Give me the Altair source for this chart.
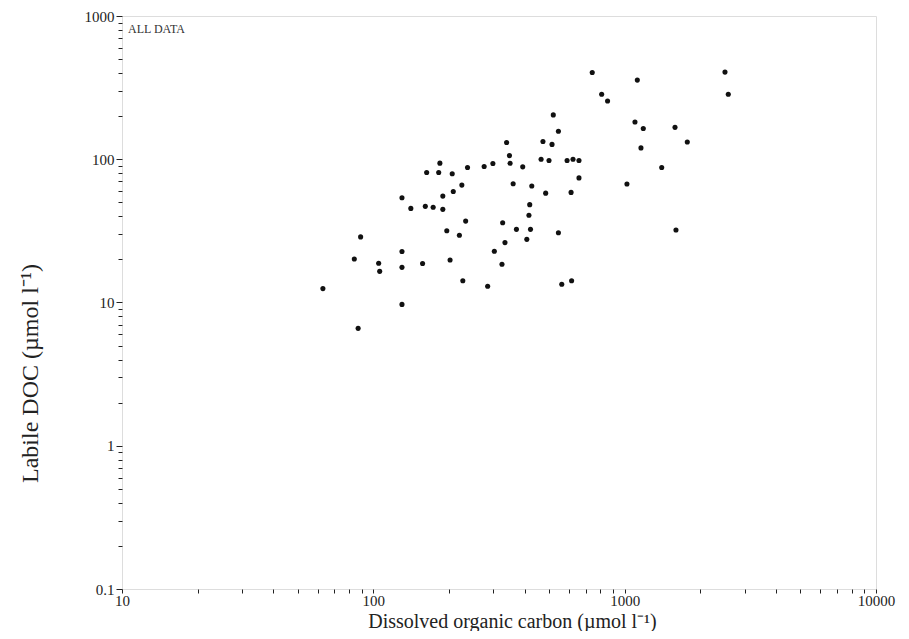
import altair as alt
import pandas as pd

# Dissolved organic carbon (umol/l) and labile DOC (umol/l)
doc = [63, 84, 87, 89, 105, 106, 130, 130, 130, 130,
       141, 161, 173, 189, 157, 163, 182, 184, 189, 206,
       208, 225, 237, 196, 220, 202, 227, 233, 276, 299,
       285, 303, 325, 327, 334, 339, 348, 350, 360, 371,
       393, 408, 419, 416, 422, 427, 473, 514, 465, 500,
       485, 520, 545, 545, 562, 615, 590, 623, 658, 612,
       658, 743, 810, 855, 1021, 1099, 1123, 1161, 1186, 1404,
       1586, 1600, 1775, 2507, 2584]
labile = [12.5, 20.1, 6.6, 28.7, 18.8, 16.5, 53.8, 22.7, 17.6, 9.7,
          45.4, 46.9, 46.2, 44.7, 18.7, 80.9, 80.9, 93.9, 55.3, 79.3,
          59.5, 66.0, 87.6, 31.7, 29.5, 19.8, 14.2, 37.0, 89.0, 93.4,
          13.0, 22.8, 18.5, 36.0, 26.2, 131, 106, 93.7, 67.5, 32.4,
          88.5, 27.6, 48.2, 40.7, 32.4, 65.1, 133, 127, 100, 98,
          58, 204, 157, 30.7, 13.4, 14.2, 98, 100, 98, 58.7,
          74.1, 403, 284, 255, 67.1, 182, 357, 120, 164, 87.6,
          167, 32.1, 132, 406, 284]

x_ticks = [m * 10 ** e for e in range(1, 4) for m in range(1, 10)] + [10000]
y_ticks = [round(m * 10 ** e, 4) for e in range(-1, 3) for m in range(1, 10)] + [1000]
x_major = [10, 100, 1000, 10000]
y_major = [0.1, 1, 10, 100, 1000]

df = pd.DataFrame({"doc": doc, "labile": labile})

FONT = "Liberation Serif"

def major_test(vals):
    return "indexof([" + ",".join(str(v) for v in vals) + "], datum.value) >= 0"

x_axis = alt.Axis(
    values=x_ticks,
    labelExpr=major_test(x_major) + " ? toString(datum.value) : ''",
    tickSize={"condition": {"test": major_test(x_major), "value": 4}, "value": 4},
    grid=False, domain=False, tickColor="#222", tickWidth=1,
    labelFont=FONT, labelFontSize=15, labelColor="#222", labelPadding=0,
    labelFlush=False, labelOverlap=False,
    title="Dissolved organic carbon (µmol l⁻¹)",
    titleFont=FONT, titleFontSize=20, titleFontWeight="normal", titleColor="#222",
    titleX=390, titleY=38, titleBaseline="alphabetic", titleAlign="center",
)
y_axis = alt.Axis(
    values=y_ticks,
    labelExpr=major_test(y_major) + " ? toString(datum.value) : ''",
    tickSize={"condition": {"test": major_test(y_major), "value": 6}, "value": 4},
    grid=False, domain=False, tickColor="#222", tickWidth=1,
    labelFont=FONT, labelFontSize=15, labelColor="#222", labelPadding=2,
    labelFlush=False, labelOverlap=False,
    title="Labile DOC (µmol l⁻¹)",
    titleFont=FONT, titleFontSize=24, titleFontWeight="normal", titleColor="#222",
    titleX=-92, titleY=357, titleAngle=-90, titleBaseline="middle", titleAlign="center",
)

points = alt.Chart(df).mark_circle(size=26, color="#111", opacity=1).encode(
    x=alt.X("doc:Q", scale=alt.Scale(type="log", domain=[10, 10000], nice=False), axis=x_axis),
    y=alt.Y("labile:Q", scale=alt.Scale(type="log", domain=[0.1, 1000], nice=False), axis=y_axis),
)

label = alt.Chart(pd.DataFrame({"t": ["ALL DATA"]})).mark_text(
    font=FONT, fontSize=12, align="left", baseline="middle", color="#333"
).encode(text="t:N", x=alt.value(6), y=alt.value(13))

chart = alt.layer(points, label).properties(
    width=754, height=573,
    autosize=alt.AutoSizeParams(type="none"),
    padding={"left": 114, "top": 8, "right": 25, "bottom": 42},
).configure_view(stroke="#222", strokeWidth=1.5).configure(background="white")

chart.save("out.html", embed_options={"renderer": "svg", "actions": False})
